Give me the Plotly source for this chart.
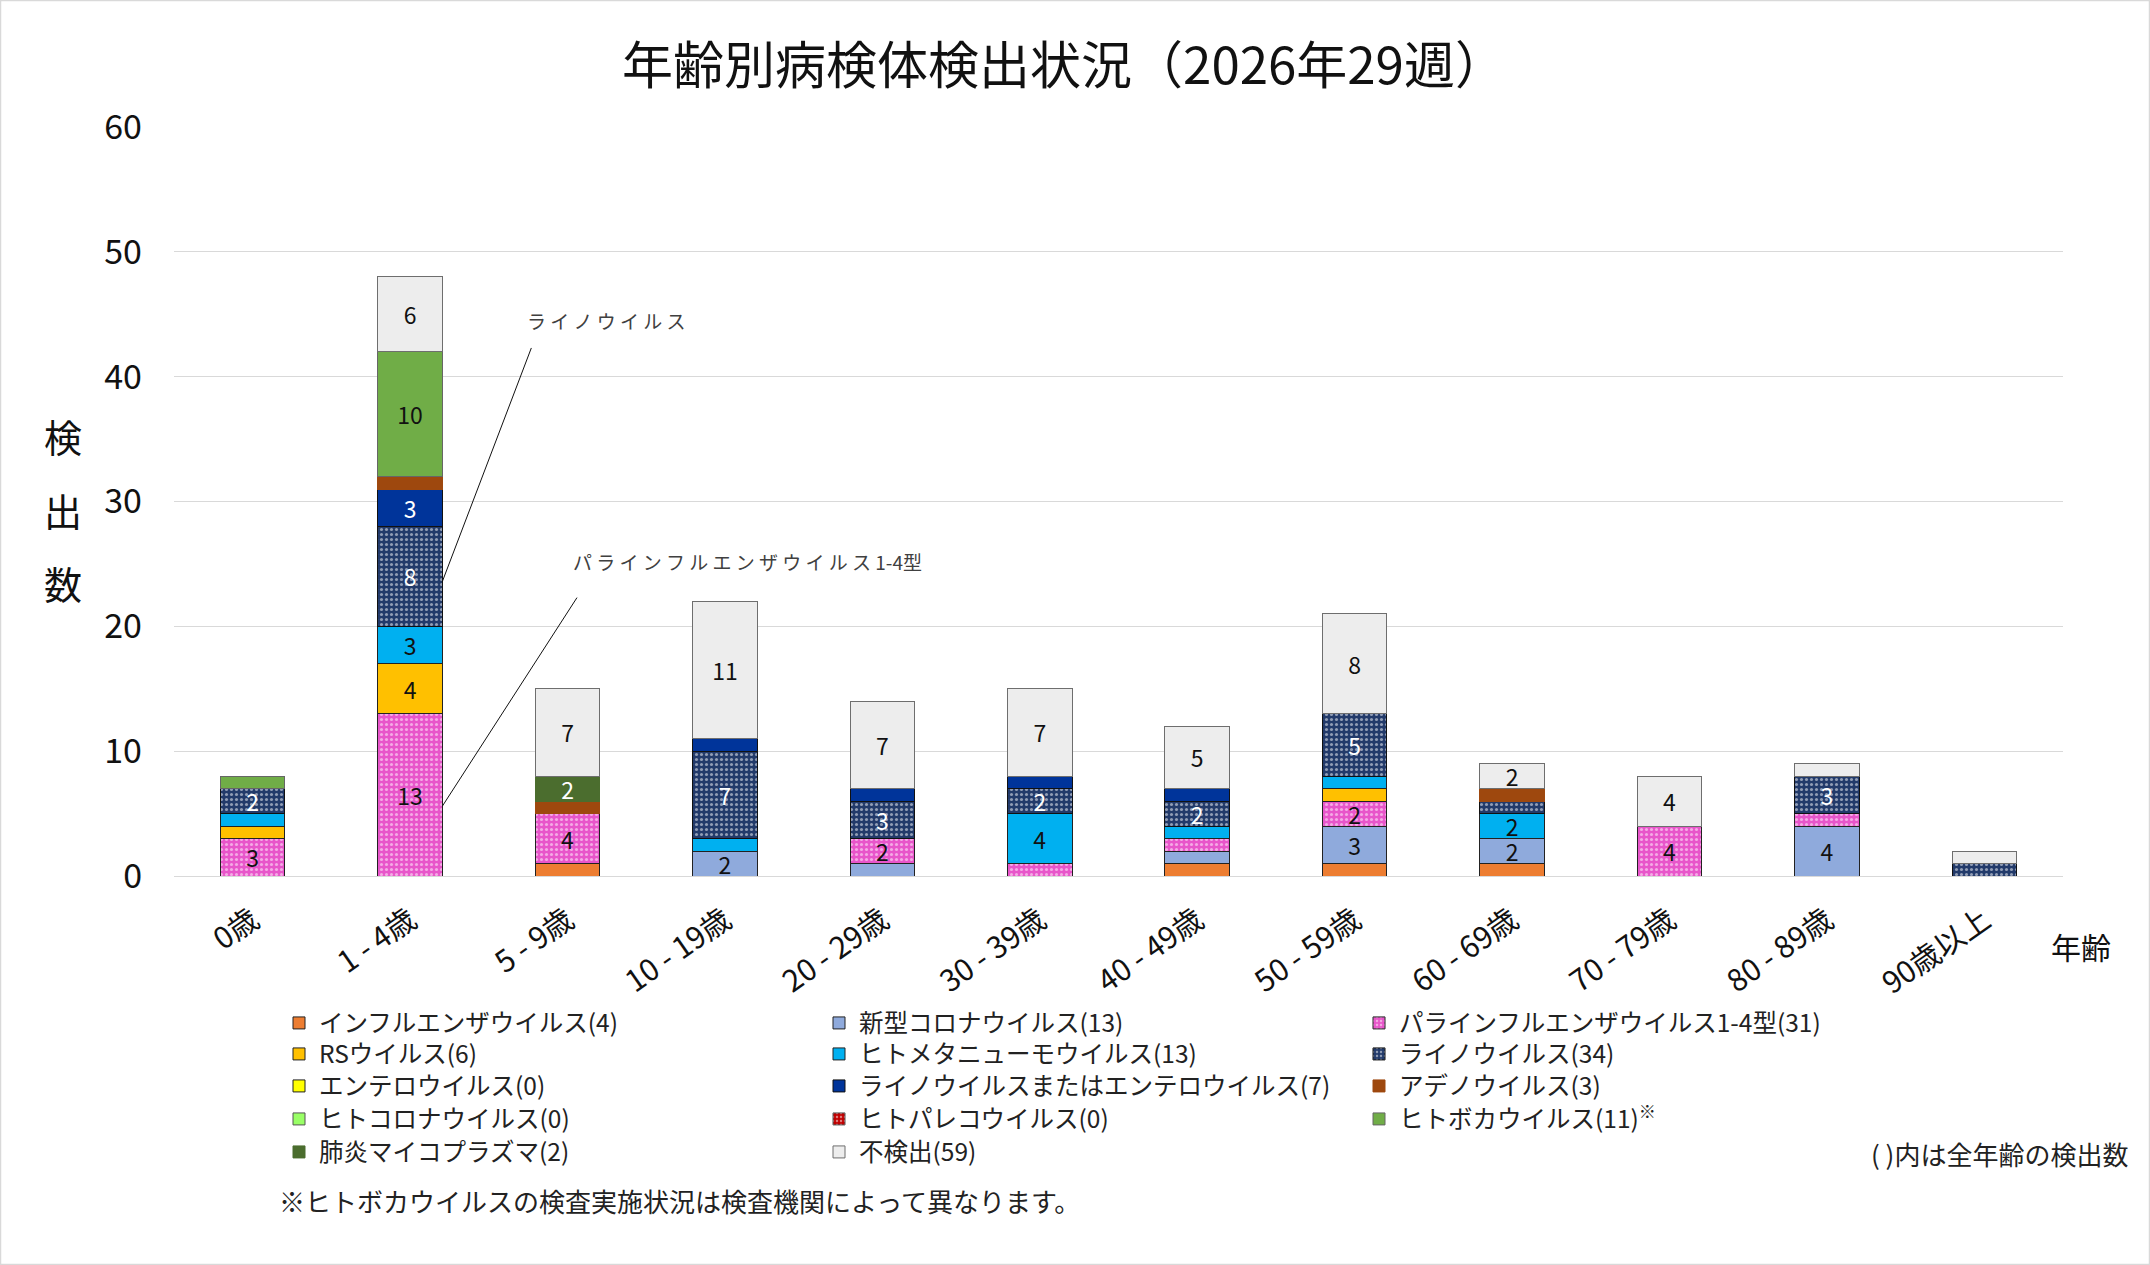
import plotly.graph_objects as go

# ---------------- data ----------------
categories = ["0歳", "1 - 4歳", "5 - 9歳", "10 - 19歳", "20 - 29歳", "30 - 39歳",
              "40 - 49歳", "50 - 59歳", "60 - 69歳", "70 - 79歳", "80 - 89歳", "90歳以上"]

flu      = [0, 0, 1, 0, 0, 0, 1, 1, 1, 0, 0, 0]
covid    = [0, 0, 0, 2, 1, 0, 1, 3, 2, 0, 4, 0]
para     = [3, 13, 4, 0, 2, 1, 1, 2, 0, 4, 1, 0]
rsv      = [1, 4, 0, 0, 0, 0, 0, 1, 0, 0, 0, 0]
hmpv     = [1, 3, 0, 1, 0, 4, 1, 1, 2, 0, 0, 0]
rhino    = [2, 8, 0, 7, 3, 2, 2, 5, 1, 0, 3, 1]
entero   = [0, 0, 0, 0, 0, 0, 0, 0, 0, 0, 0, 0]
rhino_en = [0, 3, 0, 1, 1, 1, 1, 0, 0, 0, 0, 0]
adeno    = [0, 1, 1, 0, 0, 0, 0, 0, 1, 0, 0, 0]
hcov     = [0, 0, 0, 0, 0, 0, 0, 0, 0, 0, 0, 0]
parecho  = [0, 0, 0, 0, 0, 0, 0, 0, 0, 0, 0, 0]
boca     = [1, 10, 0, 0, 0, 0, 0, 0, 0, 0, 0, 0]
myco     = [0, 0, 2, 0, 0, 0, 0, 0, 0, 0, 0, 0]
negative = [0, 6, 7, 11, 7, 7, 5, 8, 2, 4, 1, 1]

series_names = ["インフルエンザウイルス", "新型コロナウイルス", "パラインフルエンザウイルス1-4型",
                "RSウイルス", "ヒトメタニューモウイルス", "ライノウイルス",
                "エンテロウイルス", "ライノウイルスまたはエンテロウイルス", "アデノウイルス",
                "ヒトコロナウイルス", "ヒトパレコウイルス", "ヒトボカウイルス",
                "肺炎マイコプラズマ", "不検出"]
series_values = [flu, covid, para, rsv, hmpv, rhino, entero, rhino_en, adeno,
                 hcov, parecho, boca, myco, negative]

title_text = "年齢別病検体検出状況（2026年29週）"
y_title = "検出数"
x_title = "年齢"
y_ticks = [0, 10, 20, 30, 40, 50, 60]

# ---------------- styles ----------------
colors = ["#ED7D31", "#8FAADC", "#E855CA", "#FFC000", "#00B0F0", "#223A6A",
          "#FFFF00", "#00349A", "#9E480E", "#99FF66", "#C00000", "#70AD47",
          "#4B6D2E", "#EDEDED"]
line_colors = ["#222222", "#222222", "#222222", "#222222", "#222222", "#111111",
               "#222222", "#111111", "#9E480E", "#555555", "#555555", "#666666",
               "#4B6D2E", "#6E6E6E"]
patterned = {2, 5, 10}
white_text = {5, 7, 12}
suffix = {11: "<sup>※</sup>"}

FONT = "Noto Sans CJK JP, Noto Sans, sans-serif"
W, H = 2150, 1265
ML, MR, MT, MB = 174, 87, 127, 389
PW, PH = W - ML - MR, H - MT - MB


def px2paper_x(px):
    return (px - ML) / PW


def px2paper_y(py):
    return (H - MB - py) / PH


legend_ids = ["legend", "legend2", "legend3", "legend4", "legend5"]

fig = go.Figure()
for i, (name, vals) in enumerate(zip(series_names, series_values)):
    marker = dict(color=colors[i], line=dict(color=line_colors[i], width=1))
    if i in patterned:
        marker["pattern"] = dict(shape=".", fillmode="overlay", fgcolor="white",
                                 size=5, solidity=0.3)
    fig.add_trace(go.Bar(
        x=categories,
        y=[v if v else None for v in vals],
        name=f"{name}({sum(vals)}){suffix.get(i, '')}",
        marker=marker,
        text=[str(v) if v >= 2 else "" for v in vals],
        textposition="inside",
        insidetextanchor="middle",
        textangle=0,
        constraintext="none",
        textfont=dict(family=FONT, size=23,
                      color="white" if i in white_text else "#111111"),
        legend=legend_ids[i // 3],
        hoverinfo="x+y+name",
    ))

# legend: one horizontal legend per row, three fixed-width entries each
row_px = [1023, 1054, 1086, 1119, 1152]
legend_layout = {}
for r, lid in enumerate(legend_ids):
    legend_layout[lid] = dict(
        orientation="h", traceorder="normal", x=px2paper_x(279), xanchor="left",
        y=px2paper_y(row_px[r]), yanchor="middle",
        entrywidth=495, entrywidthmode="pixels",
        font=dict(family=FONT, size=24.5, color="#222222"),
        bgcolor="rgba(0,0,0,0)", itemclick=False, itemdoubleclick=False)
fig.update_layout(**legend_layout)

fig.update_layout(
    width=W, height=H,
    margin=dict(l=ML, r=MR, t=MT, b=MB, autoexpand=False),
    paper_bgcolor="white", plot_bgcolor="white",
    barmode="stack", bargap=0.59,
    font=dict(family=FONT, color="#111111"),
    title=dict(text=title_text, x=1064 / W, xref="container", xanchor="center",
               y=1 - 66 / H, yanchor="middle",
               font=dict(family=FONT, size=51, color="#111111")),
    xaxis=dict(range=[-0.5, len(categories) - 0.5], showgrid=False, showline=False,
               ticks="", tickangle=-35, ticklabelstandoff=20,
               tickfont=dict(family=FONT, size=30, color="#111111")),
    yaxis=dict(range=[0, 60], tickvals=y_ticks, showgrid=True, gridcolor="#D9D9D9",
               gridwidth=1, zeroline=True, zerolinecolor="#D9D9D9", zerolinewidth=1,
               showline=False, ticks="", ticklabelstandoff=31,
               tickfont=dict(family=FONT, size=34, color="#111111")),
)

annotations = []
# y axis title (stacked vertical characters)
for k, ch in enumerate(y_title):
    annotations.append(dict(text=ch, xref="paper", yref="paper",
                            x=px2paper_x(63), y=px2paper_y(436 + 73 * k),
                            showarrow=False, xanchor="center", yanchor="middle",
                            font=dict(family=FONT, size=38, color="#111111")))
# x axis title
annotations.append(dict(text=x_title, xref="paper", yref="paper",
                        x=px2paper_x(2081), y=px2paper_y(946), showarrow=False,
                        xanchor="center", yanchor="middle",
                        font=dict(family=FONT, size=30, color="#111111")))
# notes
annotations.append(dict(text="( )内は全年齢の検出数", xref="paper", yref="paper",
                        x=px2paper_x(2130), y=px2paper_y(1153), showarrow=False,
                        xanchor="right", yanchor="middle",
                        font=dict(family=FONT, size=26, color="#222222")))
annotations.append(dict(text="※ヒトボカウイルスの検査実施状況は検査機関によって異なります。",
                        xref="paper", yref="paper",
                        x=px2paper_x(277), y=px2paper_y(1200), showarrow=False,
                        xanchor="left", yanchor="middle",
                        font=dict(family=FONT, size=26, color="#222222")))

# callouts for the 1-4歳 bar, anchored to segment midpoints computed from data
ci = 1
half_bar = (1 - 0.59) / 2
below_rhino = sum(series_values[j][ci] for j in range(5))
rhino_mid = below_rhino + rhino[ci] / 2
para_mid = sum(series_values[j][ci] for j in range(2)) + para[ci] / 2
shapes = [
    dict(type="line", xref="x", yref="y", x0=ci + half_bar, y0=rhino_mid - 0.4,
         x1=ci + 0.77, y1=42.3, line=dict(color="#111111", width=1)),
    dict(type="line", xref="x", yref="y", x0=ci + half_bar, y0=para_mid - 0.9,
         x1=ci + 1.06, y1=22.3, line=dict(color="#111111", width=1)),
    # outer chart border
    dict(type="rect", xref="paper", yref="paper", x0=px2paper_x(0.5), x1=px2paper_x(W - 0.5),
         y0=px2paper_y(H - 0.5), y1=px2paper_y(0.5), line=dict(color="#D9D9D9", width=1.5),
         layer="below"),
]
annotations.append(dict(text="ラ イ ノ ウ イ ル ス", xref="x", yref="y", x=ci + 0.73, y=44.5,
                        showarrow=False, xanchor="left", yanchor="middle",
                        font=dict(family=FONT, size=19, color="#404040")))
annotations.append(dict(text="パ ラ イ ン フ ル エ ン ザ ウ イ ル ス 1-4型", xref="x", yref="y",
                        x=ci + 1.02, y=25.2, showarrow=False, xanchor="left", yanchor="middle",
                        font=dict(family=FONT, size=19, color="#404040")))

fig.update_layout(annotations=annotations, shapes=shapes)

fig.write_html("out.html", config={"displayModeBar": False},
               post_script="document.body.style.margin='0px';")
